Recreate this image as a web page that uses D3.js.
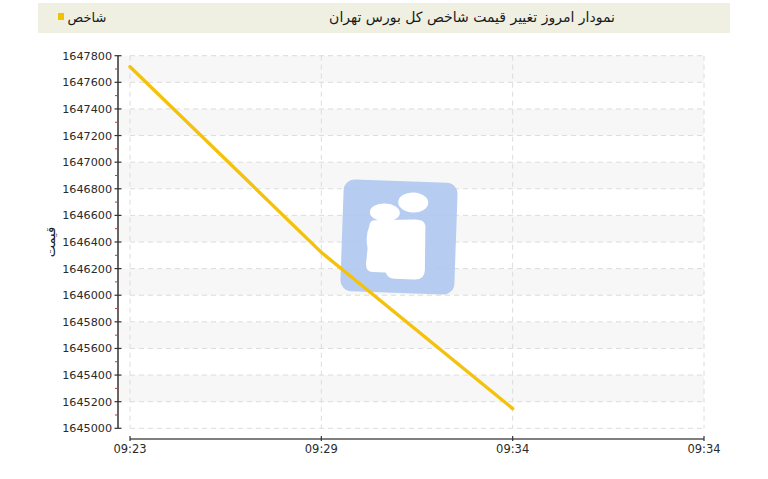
<!DOCTYPE html>
<html>
<head>
<meta charset="utf-8">
<script src="https://cdn.jsdelivr.net/npm/d3@7"></script>
<style>
  html, body { margin: 0; padding: 0; background: #fff; }
  svg { display: block; }
  text { font-family: "DejaVu Sans", sans-serif; }
</style>
</head>
<body>
<svg id="chart" width="768" height="479"></svg>
<script>
// ---- data ----
const title = "نمودار امروز تغییر قیمت شاخص کل بورس تهران";
const seriesName = "شاخص";
const yTitle = "قیمت";
const xTickLabels = ["09:23", "09:29", "09:34", "09:34"];
const seriesIndex = [0, 1, 2];
const seriesValues = [1647717, 1646322, 1645148];
const yTicks = [1645000, 1645200, 1645400, 1645600, 1645800, 1646000, 1646200,
                1646400, 1646600, 1646800, 1647000, 1647200, 1647400, 1647600, 1647800];

// ---- layout ----
const svg = d3.select("#chart");
const plotTop = 55.7, plotBottom = 428.3;
const plotLeft = 130, plotRight = 704;
const yAxisX = 118, xAxisY = 439;

const x = d3.scaleLinear().domain([0, xTickLabels.length - 1]).range([plotLeft, plotRight]);
const y = d3.scaleLinear().domain([1645000, 1647800]).range([plotBottom, plotTop]);

// header band
svg.append("rect").attr("x", 38).attr("y", 3).attr("width", 692).attr("height", 30)
  .attr("fill", "#efefe2");
svg.append("text").attr("x", 472).attr("y", 22).attr("text-anchor", "middle")
  .attr("font-size", 14).attr("fill", "#1a1a1a").text(title);
svg.append("rect").attr("x", 58).attr("y", 13).attr("width", 6).attr("height", 7)
  .attr("fill", "#f2c200");
svg.append("text").attr("x", 87).attr("y", 21.5).attr("text-anchor", "middle")
  .attr("font-size", 13).attr("fill", "#1a1a1a").text(seriesName);

// alternating bands
const bandG = svg.append("g");
for (let i = 0; i < yTicks.length - 1; i++) {
  const hi = yTicks[yTicks.length - 1 - i], lo = yTicks[yTicks.length - 2 - i];
  if (i % 2 === 0) {
    bandG.append("rect").attr("x", yAxisX).attr("y", y(hi))
      .attr("width", plotRight - yAxisX).attr("height", y(lo) - y(hi))
      .attr("fill", "#f7f7f7");
  }
}

// grid
const gridG = svg.append("g").attr("stroke", "#dcdcdc").attr("stroke-dasharray", "5,4").attr("stroke-width", 1);
yTicks.forEach(t => {
  gridG.append("line").attr("x1", plotLeft).attr("x2", plotRight)
    .attr("y1", y(t)).attr("y2", y(t));
});
xTickLabels.forEach((_, i) => {
  gridG.append("line").attr("x1", x(i)).attr("x2", x(i))
    .attr("y1", plotTop).attr("y2", plotBottom);
});

// watermark logo
const wm = svg.append("g").attr("transform", "translate(399,237) rotate(2)");
wm.append("rect").attr("x", -57).attr("y", -56).attr("width", 114).attr("height", 112)
  .attr("rx", 11).attr("fill", "#aec8f0").attr("opacity", 0.9);
wm.append("ellipse").attr("cx", -15).attr("cy", -24).attr("rx", 15).attr("ry", 9).attr("fill", "#fff");
wm.append("ellipse").attr("cx", 13).attr("cy", -35).attr("rx", 15).attr("ry", 10).attr("fill", "#fff");
wm.append("path").attr("fill", "#fff")
  .attr("d", "M-30,-10 Q-30,-16 -24,-16 L14,-18 Q25,-19 26,-12 L27,32 Q27,42 17,42 L-3,42 Q-10,42 -12,36 L-25,36 Q-32,36 -32,28 L-31,12 Q-34,0 -30,-10 Z");

// y axis
const yAxis = svg.append("g");
yAxis.append("line").attr("x1", yAxisX).attr("x2", yAxisX).attr("y1", plotTop).attr("y2", plotBottom)
  .attr("stroke", "#333").attr("stroke-width", 1.5);
yTicks.forEach(t => {
  yAxis.append("line").attr("x1", yAxisX - 3.5).attr("x2", yAxisX + 3.5)
    .attr("y1", y(t)).attr("y2", y(t)).attr("stroke", "#333").attr("stroke-width", 1.2);
  yAxis.append("text").attr("x", yAxisX - 6).attr("y", y(t)).attr("dy", "0.36em")
    .attr("text-anchor", "end").attr("font-size", 11.2).attr("fill", "#2a2a2a")
    .text(t);
});
for (let i = 0; i < yTicks.length - 1; i++) {
  const m = (yTicks[i] + yTicks[i + 1]) / 2;
  yAxis.append("line").attr("x1", yAxisX - 3).attr("x2", yAxisX)
    .attr("y1", y(m)).attr("y2", y(m)).attr("stroke", "#c0392b").attr("stroke-width", 1);
}
svg.append("text").attr("transform", `translate(55,${(plotTop + plotBottom) / 2}) rotate(-90)`)
  .attr("text-anchor", "middle").attr("font-size", 13).attr("fill", "#1a1a1a").text(yTitle);

// x axis
const xAxis = svg.append("g");
xAxis.append("line").attr("x1", plotLeft).attr("x2", plotRight).attr("y1", xAxisY).attr("y2", xAxisY)
  .attr("stroke", "#555").attr("stroke-width", 1.5);
xTickLabels.forEach((lab, i) => {
  xAxis.append("line").attr("x1", x(i)).attr("x2", x(i)).attr("y1", xAxisY - 3).attr("y2", xAxisY + 2)
    .attr("stroke", "#333").attr("stroke-width", 1.2);
  xAxis.append("text").attr("x", x(i)).attr("y", 453).attr("text-anchor", "middle")
    .attr("font-size", 11.5).attr("fill", "#2a2a2a").text(lab);
});

// series line
const line = d3.line().x((d, i) => x(seriesIndex[i])).y(d => y(d));
svg.append("path").datum(seriesValues).attr("d", line)
  .attr("fill", "none").attr("stroke", "#f4c20d").attr("stroke-width", 3.4)
  .attr("stroke-linecap", "round").attr("stroke-linejoin", "round");
</script>
</body>
</html>
